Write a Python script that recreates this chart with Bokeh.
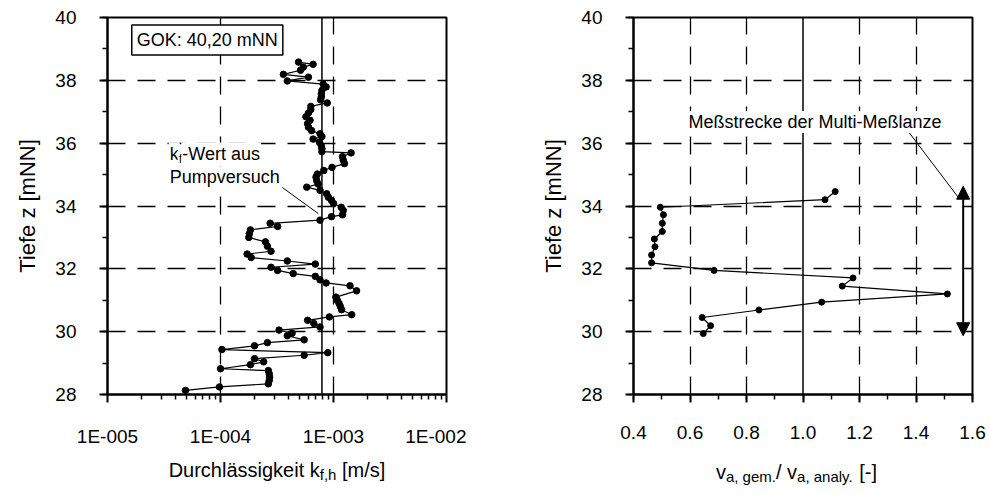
from bokeh.plotting import figure
from bokeh.layouts import row, column
from bokeh.models import (FixedTicker, CustomJSTickFormatter, Span, Label, Arrow,
                          NormalHead, Range1d)
from bokeh.embed import file_html
from bokeh.resources import INLINE

# ---------------- data ----------------
kf_depth = [38.58, 38.51, 38.42, 38.32, 38.19, 38.10, 37.98, 37.88, 37.79, 37.68,
            37.57, 37.47, 37.38, 37.28, 37.17, 37.07, 36.96, 36.84, 36.73, 36.62,
            36.51, 36.40, 36.30, 36.21, 36.13, 36.03, 35.92, 35.82, 35.73, 35.69,
            35.57, 35.46, 35.35, 35.23, 35.13, 35.02, 34.92, 34.81, 34.70, 34.60,
            34.50, 34.39, 34.28, 34.18, 34.08, 33.96, 33.86, 33.72, 33.66, 33.55,
            33.45, 33.35, 33.24, 33.12, 33.00, 32.86, 32.72, 32.56, 32.47, 32.36,
            32.25, 32.15, 32.05, 31.95, 31.85, 31.76, 31.65, 31.55, 31.46, 31.30,
            31.10, 31.00, 30.90, 30.80, 30.70, 30.54, 30.47, 30.36, 30.26, 30.15,
            30.05, 29.95, 29.87, 29.74, 29.65, 29.55, 29.43, 29.33, 29.25, 29.14,
            29.04, 28.95, 28.82, 28.76, 28.66, 28.55, 28.45, 28.34, 28.24, 28.13]
kf_value = [4.9e-4, 6.6e-4, 5.4e-4, 5.1e-4, 3.6e-4, 6.0e-4, 3.9e-4, 8.1e-4, 8.6e-4, 7.9e-4,
            7.8e-4, 7.8e-4, 7.7e-4, 8.8e-4, 6.3e-4, 6.3e-4, 6.0e-4, 5.7e-4, 6.2e-4, 5.9e-4,
            6.0e-4, 6.4e-4, 7.6e-4, 7.9e-4, 6.6e-4, 7.5e-4, 7.8e-4, 7.9e-4, 7.9e-4, 1.43e-3,
            1.20e-3, 1.22e-3, 1.25e-3, 9.7e-4, 8.2e-4, 7.2e-4, 7.0e-4, 7.1e-4, 7.3e-4, 5.8e-4,
            7.6e-4, 8.7e-4, 9.0e-4, 9.6e-4, 1.0e-3, 1.17e-3, 1.22e-3, 1.20e-3, 9.6e-4, 7.6e-4,
            2.75e-4, 3.2e-4, 1.84e-4, 1.80e-4, 1.78e-4, 2.5e-4, 2.6e-4, 2.8e-4, 1.72e-4, 1.87e-4,
            3.9e-4, 6.9e-4, 2.8e-4, 3.2e-4, 4.4e-4, 6.9e-4, 7.6e-4, 8.6e-4, 1.40e-3, 1.60e-3,
            1.05e-3, 1.08e-3, 1.12e-3, 1.15e-3, 1.18e-3, 1.45e-3, 9.2e-4, 5.9e-4, 6.7e-4, 7.6e-4,
            3.3e-4, 4.3e-4, 3.9e-4, 5.5e-4, 2.6e-4, 2.0e-4, 1.03e-4, 8.9e-4, 5.5e-4, 2.0e-4,
            2.41e-4, 1.84e-4, 1.0e-4, 2.65e-4, 2.7e-4, 2.72e-4, 2.7e-4, 2.65e-4, 9.8e-5, 4.9e-5]
kf_pump = 7.9e-4

v_depth = [34.46, 34.20, 33.96, 33.72, 33.45, 33.19, 32.95, 32.70, 32.44, 32.19,
           31.95, 31.71, 31.45, 31.20, 30.94, 30.69, 30.45, 30.19, 29.94]
v_ratio = [1.114, 1.078, 0.495, 0.506, 0.502, 0.502, 0.474, 0.476, 0.464, 0.464,
           0.685, 1.177, 1.139, 1.511, 1.066, 0.844, 0.643, 0.673, 0.647]
v_ref = 1.0
lanze_bottom = 29.87
lanze_top = 34.63

y_ticks = [28, 30, 32, 34, 36, 38, 40]
y_tick_labels = ["28", "30", "32", "34", "36", "38", "40"]
kf_ticks = [1e-5, 1e-4, 1e-3, 1e-2]
kf_tick_labels = ["1E-005", "1E-004", "1E-003", "1E-002"]
v_ticks = [0.4, 0.6, 0.8, 1.0, 1.2, 1.4, 1.6]
v_tick_labels = ["0.4", "0.6", "0.8", "1.0", "1.2", "1.4", "1.6"]

# ---------------- styling helpers ----------------
FONT = "Liberation Sans"
DASH = "18 12"
AW = {' ': 278, ',': 278, '-': 333, '.': 278, '/': 278, '[': 278, ']': 278,
      'a': 556, 'c': 500, 'd': 556, 'e': 556, 'f': 278, 'g': 556, 'h': 556,
      'i': 222, 'k': 500, 'l': 222, 'm': 833, 'n': 556, 'p': 556, 'r': 333,
      's': 500, 't': 278, 'u': 556, 'v': 500, 'y': 500, 'z': 500, 'ä': 556,
      'D': 722, 'P': 667, 'W': 944}


def tw(s, size):
    return sum(AW.get(c, 556) for c in s) * size / 1000.0


JS_FMT = """
for (let i = 0; i < vals.length; i++) {
  if (Math.abs(tick / vals[i] - 1) < 1e-6) return labs[i];
}
return "";
"""

FRAME_W, FRAME_H = 339, 377
TOP, BOTTOM = 17, 60


def style(p, xt, xl):
    p.outline_line_color = "black"
    p.outline_line_width = 2
    p.background_fill_color = "white"
    p.border_fill_color = "white"
    for ax in (p.xaxis[0], p.yaxis[0]):
        ax.axis_line_width = 2
        ax.major_tick_line_width = 2
        ax.minor_tick_line_width = 1.5
        ax.major_tick_out = 8
        ax.major_tick_in = 0
        ax.minor_tick_out = 5
        ax.minor_tick_in = 0
        ax.major_label_text_font = FONT
        ax.major_label_text_font_size = "19px"
        ax.major_label_text_color = "black"
        ax.axis_label_text_font = FONT
        ax.axis_label_text_font_style = "normal"
        ax.axis_label_text_font_size = "22px"
        ax.axis_label_text_color = "black"
    p.yaxis[0].ticker = FixedTicker(ticks=y_ticks, minor_ticks=list(range(28, 41)))
    p.yaxis[0].formatter = CustomJSTickFormatter(args=dict(vals=y_ticks, labs=y_tick_labels), code=JS_FMT)
    p.yaxis[0].axis_label = "Tiefe z [mNN]"
    p.yaxis[0].major_label_standoff = 23
    p.yaxis[0].axis_label_standoff = 12
    p.xaxis[0].formatter = CustomJSTickFormatter(args=dict(vals=xt, labs=xl), code=JS_FMT)
    p.xaxis[0].major_label_standoff = 23
    p.ygrid[0].ticker = FixedTicker(ticks=y_ticks[1:-1])
    for g in (p.xgrid[0], p.ygrid[0]):
        g.grid_line_color = "black"
        g.grid_line_width = 1.3
        g.grid_line_dash = DASH


# ---------------- left figure ----------------
p1 = figure(frame_width=FRAME_W, frame_height=FRAME_H, x_axis_type="log",
            x_range=Range1d(kf_ticks[0], kf_ticks[-1]), y_range=Range1d(28, 40),
            min_border_left=107, min_border_right=20, min_border_top=TOP, min_border_bottom=BOTTOM,
            output_backend="svg", toolbar_location=None)
p1.xaxis[0].ticker = FixedTicker(ticks=kf_ticks,
                                 minor_ticks=[m * t for t in kf_ticks[:-1] for m in range(2, 10)])
p1.xgrid[0].ticker = FixedTicker(ticks=kf_ticks[1:-1])
style(p1, kf_ticks, kf_tick_labels)

p1.add_layout(Span(location=kf_pump, dimension="height", line_color="black", line_width=1.5))
p1.line(kf_value, kf_depth, line_color="black", line_width=1.2)
p1.scatter(kf_value, kf_depth, size=6.5, fill_color="black", line_color="black")

# annotation k_f-Wert aus Pumpversuch
p1.segment(x0=[3.52e-4], y0=[34.59], x1=[7.33e-4], y1=[33.76], line_color="black", line_width=1)
ann_x, ann_y1, ann_y2 = 3.48e-5, 35.67, 34.91
for t, s, dx, dy, yy in [("k", 18, 0, 0, ann_y1), ("f", 13, tw("k", 18), -5, ann_y1),
                         ("-Wert aus", 18, tw("k", 18) + tw("f", 13), 0, ann_y1),
                         ("Pumpversuch", 18, 0, 0, ann_y2)]:
    p1.add_layout(Label(x=ann_x, y=yy, x_offset=dx, y_offset=dy, text=t,
                        text_font=FONT, text_font_size=f"{s}px", text_color="black",
                        text_baseline="alphabetic", background_fill_color="white", padding=1))

p1.add_layout(Label(x=1.64e-5, y=39.28, text="GOK: 40,20 mNN", text_font=FONT,
                    text_font_size="18px", text_color="black", text_baseline="middle",
                    background_fill_color="white", border_line_color="black",
                    border_line_width=1.5, padding=5))

# ---------------- right figure ----------------
p2 = figure(frame_width=FRAME_W, frame_height=FRAME_H,
            x_range=Range1d(v_ticks[0], v_ticks[-1]), y_range=Range1d(28, 40),
            min_border_left=167, min_border_right=14, min_border_top=TOP, min_border_bottom=BOTTOM,
            output_backend="svg", toolbar_location=None)
p2.xaxis[0].ticker = FixedTicker(ticks=v_ticks, minor_ticks=[0.4 + 0.1 * i for i in range(13)])
p2.xgrid[0].ticker = FixedTicker(ticks=[t for t in v_ticks[1:-1] if t != v_ref])
style(p2, v_ticks, v_tick_labels)

p2.add_layout(Span(location=v_ref, dimension="height", line_color="black", line_width=1.5))
p2.line(v_ratio, v_depth, line_color="black", line_width=1.2)
p2.scatter(v_ratio, v_depth, size=6, fill_color="black", line_color="black")

mid = (lanze_top + lanze_bottom) / 2
for yend in (lanze_top, lanze_bottom):
    p2.add_layout(Arrow(x_start=1.567, y_start=mid, x_end=1.567, y_end=yend,
                        line_color="black", line_width=2,
                        end=NormalHead(size=13, fill_color="black", line_color="black")))
p2.segment(x0=[1.373], y0=[36.37], x1=[1.55], y1=[34.27], line_color="black", line_width=1)
p2.add_layout(Label(x=0.591, y=36.67, text="Meßstrecke der Multi-Meßlanze", text_font=FONT,
                    text_font_size="18px", text_color="black", text_baseline="alphabetic",
                    background_fill_color="white", padding=1))

# ---------------- x-axis titles (with subscripts) in a strip below ----------------
W_TOTAL = 466 + 520
STRIP_H = 40
strip_top = TOP + FRAME_H + BOTTOM
tf = figure(width=W_TOTAL, height=STRIP_H, x_range=Range1d(0, W_TOTAL), y_range=Range1d(STRIP_H, 0),
            min_border=0, x_axis_location=None, y_axis_location=None,
            output_backend="svg", toolbar_location=None)
tf.outline_line_color = None
tf.xgrid.visible = False
tf.ygrid.visible = False
tf.background_fill_color = "white"
tf.border_fill_color = "white"


def title_pieces(pieces, center_x, baseline_y, drop):
    w = sum(tw(t, s) for t, s in pieces)
    x = center_x - w / 2
    for t, s in pieces:
        lead = len(t) - len(t.lstrip(" "))
        x += tw(" " * lead, s)
        body = t.strip(" ")
        tf.add_layout(Label(x=x, y=baseline_y - strip_top + (0 if s >= 20 else drop), text=body,
                            text_font=FONT, text_font_size=f"{s}px", text_color="black",
                            text_align="left", text_baseline="alphabetic"))
        x += tw(t.lstrip(" "), s)


title_pieces([("Durchlässigkeit k", 20), ("f,h", 15), (" [m/s]", 20)], 107 + FRAME_W / 2, 469, 5)
title_pieces([("v", 20), ("a, gem.", 15), ("/ v", 20), ("a, analy.", 15), (" [-]", 20)], 796, 471, 5)

layout = column(row(p1, p2), tf)
open("out.html", "w").write(file_html(layout, INLINE))
